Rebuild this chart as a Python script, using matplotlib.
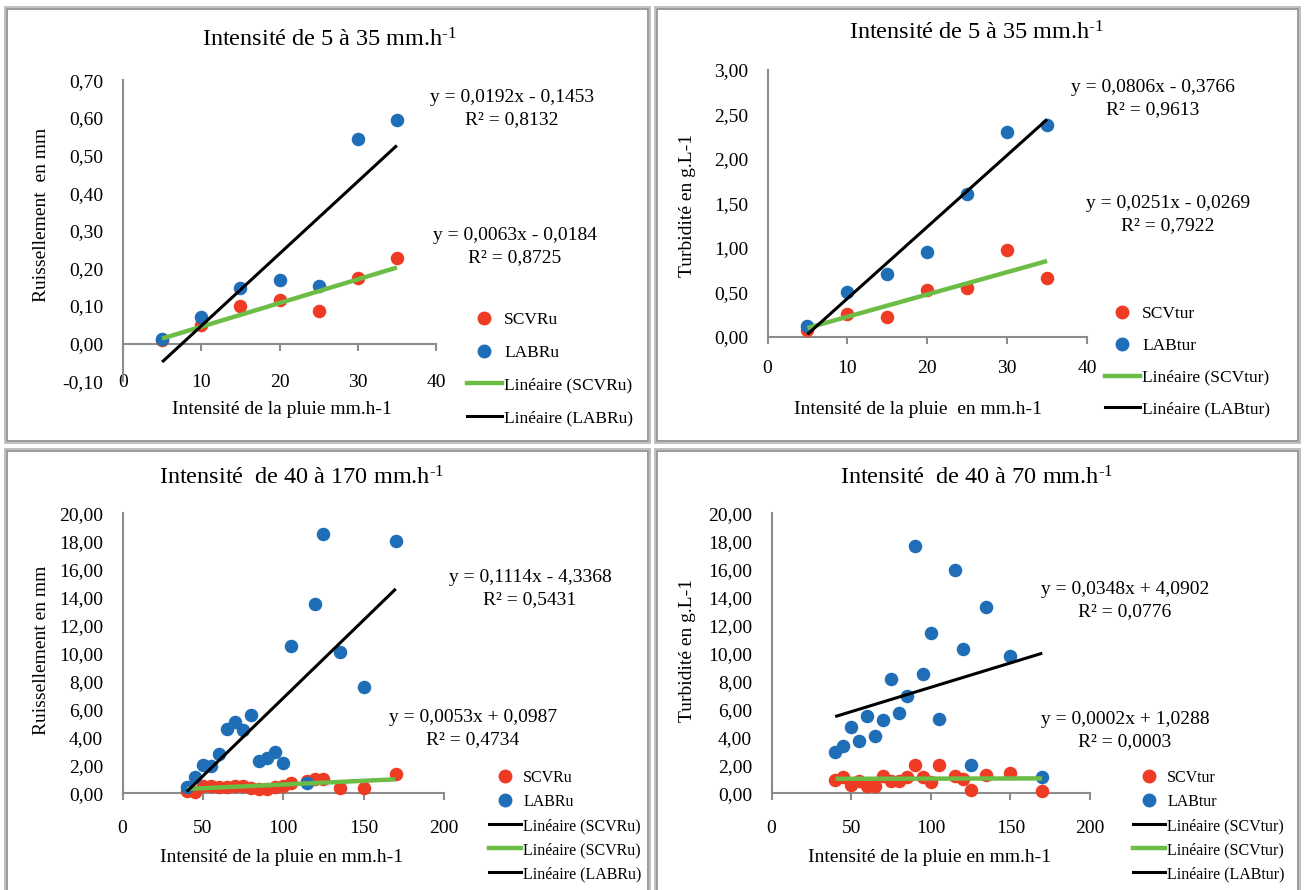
import numpy as np
import matplotlib
matplotlib.use("Agg")
import matplotlib.pyplot as plt
from matplotlib.lines import Line2D
from matplotlib.patches import Rectangle
from matplotlib.ticker import FuncFormatter

plt.rcParams['font.family'] = ['Liberation Serif', 'DejaVu Serif']
plt.rcParams['mathtext.fontset'] = 'custom'
plt.rcParams['mathtext.rm'] = 'Liberation Serif'
plt.rcParams['mathtext.it'] = 'Liberation Serif:italic'

# ---- données ----
x_faible = [5, 10, 15, 20, 25, 30, 35]  # intensité 5 à 35 mm/h
scv_ru_faible = [0.01, 0.049, 0.10, 0.115, 0.086, 0.173, 0.228]
lab_ru_faible = [0.012, 0.07, 0.148, 0.17, 0.152, 0.543, 0.595]
scv_tur_faible = [0.07, 0.26, 0.225, 0.525, 0.55, 0.97, 0.657]
lab_tur_faible = [0.124, 0.506, 0.70, 0.95, 1.605, 2.30, 2.38]

x_fort = [40, 45, 50, 55, 60, 65, 70, 75, 80, 85, 90, 95, 100, 105, 115, 120, 125, 135, 150, 170]
scv_ru_fort = [0.2, 0.1, 0.5, 0.55, 0.45, 0.45, 0.5, 0.55, 0.4, 0.3, 0.3, 0.45, 0.5, 0.75,
               0.9, 1.0, 1.05, 0.4, 0.4, 1.4]
lab_ru_fort = [0.43, 1.15, 2.04, 1.92, 2.8, 4.6, 5.08, 4.55, 5.56, 2.32, 2.52, 2.95, 2.2, 10.55,
               0.72, 13.55, 18.5, 10.1, 7.6, 18.0]
scv_tur_fort = [0.95, 1.19, 0.6, 0.9, 0.5, 0.5, 1.24, 0.9, 0.9, 1.14, 2.02, 1.14, 0.79, 2.02,
                1.24, 1.05, 0.26, 1.31, 1.43, 0.14]
lab_tur_fort = [2.93, 3.38, 4.71, 3.76, 5.52, 4.09, 5.24, 8.14, 5.76, 6.95, 17.66, 8.5, 11.43, 5.31,
                15.95, 10.29, 2.02, 13.33, 9.81, 1.19]

# courbes de tendance (pente, ordonnée) affichées sur le graphique
tend_ru_faible = [(0.0063, -0.0184), (0.0192, -0.1453)]
tend_tur_faible = [(0.0251, -0.0269), (0.0806, -0.3766)]
tend_ru_fort = [(0.0053, 0.0987), (0.1114, -4.3368)]
tend_tur_fort = [(0.0002, 1.0288), (0.0348, 4.0902)]

eq_ru_faible = [("y = 0,0192x - 0,1453", "R² = 0,8132"), ("y = 0,0063x - 0,0184", "R² = 0,8725")]
eq_tur_faible = [("y = 0,0806x - 0,3766", "R² = 0,9613"), ("y = 0,0251x - 0,0269", "R² = 0,7922")]
eq_ru_fort = [("y = 0,1114x - 4,3368", "R² = 0,5431"), ("y = 0,0053x + 0,0987", "R² = 0,4734")]
eq_tur_fort = [("y = 0,0348x + 4,0902", "R² = 0,0776"), ("y = 0,0002x + 1,0288", "R² = 0,0003")]

ROUGE = '#EE3B24'
BLEU = '#1F6EB8'
VERT = '#6CBD45'
GRIS = '#8C8C8C'

W, H = 1304, 890
fig = plt.figure(figsize=(W / 100, H / 100), dpi=100)


def fx(x):
    return x / W


def fy(y):
    return 1 - y / H


def cadre(x0, y0, x1, y1):
    # double bordure grise des graphiques Excel
    for d, c in [(0, '#B4B4B4'), (2, '#8A8A8A')]:
        fig.add_artist(Rectangle((fx(x0 + d), fy(y1 - d)), (x1 - x0 - 2 * d) / W, (y1 - y0 - 2 * d) / H,
                                 transform=fig.transFigure, fill=False, edgecolor=c, linewidth=1.2))


def virgule(v, pos):
    s = "{:.2f}".format(v).replace('.', ',')
    return "0,00" if s == "-0,00" else s


def panneau(left, right, top, bottom, xlim, ylim, xticks, yticks, pad):
    ax = fig.add_axes([fx(left), fy(bottom), (right - left) / W, (bottom - top) / H])
    ax.set_xlim(xlim)
    ax.set_ylim(ylim)
    ax.set_xticks(xticks)
    ax.set_yticks(yticks)
    ax.yaxis.set_major_formatter(FuncFormatter(virgule))
    for s in ['top', 'right']:
        ax.spines[s].set_visible(False)
    for s in ['left', 'bottom']:
        ax.spines[s].set_color(GRIS)
        ax.spines[s].set_linewidth(1.5)
    ax.spines['bottom'].set_position(('data', 0))
    ax.tick_params(axis='x', direction='out', length=5, width=1.5, color=GRIS, labelsize=14, pad=pad)
    ax.tick_params(axis='y', length=0, labelsize=14, pad=14)
    ax.patch.set_alpha(0)
    return ax


def tracer(ax, x, scv, lab, tend, lignes):
    ax.scatter(x, scv, s=95, color=ROUGE, zorder=3, clip_on=False, linewidths=0)
    ax.scatter(x, lab, s=95, color=BLEU, zorder=3, clip_on=False, linewidths=0)
    xt = np.array([min(x), max(x)])
    for (a, b), c, lw in zip(tend, lignes[0], lignes[1]):
        ax.plot(xt, a * xt + b, color=c, lw=lw, zorder=4, clip_on=False, solid_capstyle='butt')


def legende(ax, noms, couleurs, x, y, sp, taille):
    poignees = [Line2D([], [], ls='none', marker='o', ms=9, color=ROUGE),
                Line2D([], [], ls='none', marker='o', ms=9, color=BLEU)]
    for c in couleurs:
        poignees.append(Line2D([], [], color=c, lw=3.2 if c == VERT else 2.2))
    ax.legend(poignees, noms, loc='upper left', bbox_to_anchor=(fx(x), fy(y)), bbox_transform=fig.transFigure,
              frameon=False, fontsize=taille, handlelength=2.0, handletextpad=0.15, labelspacing=sp,
              borderpad=0, borderaxespad=0)


def equations(eqs, pos):
    for (l1, l2), (x, y1, y2) in zip(eqs, pos):
        fig.text(fx(x), fy(y1), l1, ha='center', va='center', fontsize=14)
        fig.text(fx(x), fy(y2), l2, ha='center', va='center', fontsize=14)


def titre(x, y, s):
    fig.text(fx(x), fy(y), s + r" mm.h$^{\text{-1}}$", ha='center', va='center', fontsize=17.5)


# cadres
cadre(5, 7, 650, 443)
cadre(655, 7, 1300, 443)
cadre(5, 449, 650, 898)
cadre(655, 449, 1300, 898)

# ---- 1 : ruissellement 5 à 35 ----
ax1 = panneau(123, 436, 80.3, 381.1, (0, 40), (-0.1, 0.7), np.arange(0, 41, 10),
              np.arange(-0.1, 0.71, 0.1), 17)
tracer(ax1, x_faible, scv_ru_faible, lab_ru_faible, tend_ru_faible, ([VERT, 'black'], [3.2, 2.2]))
titre(330, 40, "Intensité de 5 à 35")
fig.text(fx(282), fy(410), "Intensité de la pluie mm.h-1", ha='center', va='center', fontsize=14)
fig.text(fx(42), fy(215), "Ruissellement  en mm", ha='center', va='center', rotation=90, fontsize=14)
legende(ax1, ["SCVRu", "LABRu", "Linéaire (SCVRu)", "Linéaire (LABRu)"], [VERT, 'black'], 467, 312, 0.95, 12.5)
equations(eq_ru_faible, [(512, 98, 120), (515, 236, 258)])

# ---- 2 : turbidité 5 à 35 ----
ax2 = panneau(767.5, 1087, 70, 336.7, (0, 40), (0, 3), np.arange(0, 41, 10),
              np.arange(0, 3.01, 0.5), 12)
tracer(ax2, x_faible, scv_tur_faible, lab_tur_faible, tend_tur_faible, ([VERT, 'black'], [3.2, 2.2]))
titre(977, 33, "Intensité de 5 à 35")
fig.text(fx(918), fy(410), "Intensité de la pluie  en mm.h-1", ha='center', va='center', fontsize=14)
fig.text(fx(688), fy(205), "Turbidité en g.L-1", ha='center', va='center', rotation=90, fontsize=14)
legende(ax2, ["SCVtur", "LABtur", "Linéaire (SCVtur)", "Linéaire (LABtur)"], [VERT, 'black'], 1105, 306, 0.9, 12.5)
equations(eq_tur_faible, [(1153, 88, 110), (1168, 204, 226)])

# ---- 3 : ruissellement 40 à 170 ----
ax3 = panneau(122.5, 444, 513.3, 793.3, (0, 200), (0, 20), np.arange(0, 201, 50),
              np.arange(0, 20.01, 2), 14)
tracer(ax3, x_fort, scv_ru_fort, lab_ru_fort, [tend_ru_fort[0]] + tend_ru_fort,
       (['black', VERT, 'black'], [2.2, 3.2, 2.2]))
titre(302, 478, "Intensité  de 40 à 170")
fig.text(fx(282), fy(858), "Intensité de la pluie en mm.h-1", ha='center', va='center', fontsize=14)
fig.text(fx(42), fy(650), "Ruissellement en mm", ha='center', va='center', rotation=90, fontsize=14)
legende(ax3, ["SCVRu", "LABRu", "Linéaire (SCVRu)", "Linéaire (SCVRu)", "Linéaire (LABRu)"],
        ['black', VERT, 'black'], 489, 770, 0.5, 11.5)
equations(eq_ru_fort, [(530, 578, 600), (473, 718, 740)])

# ---- 4 : turbidité 40 à 170 ----
ax4 = panneau(771.5, 1090, 513.3, 793.3, (0, 200), (0, 20), np.arange(0, 201, 50),
              np.arange(0, 20.01, 2), 14)
tracer(ax4, x_fort, scv_tur_fort, lab_tur_fort, [tend_tur_fort[0]] + tend_tur_fort,
       (['black', VERT, 'black'], [2.2, 3.2, 2.2]))
titre(977, 478, "Intensité  de 40 à 70")
fig.text(fx(930), fy(858), "Intensité de la pluie en mm.h-1", ha='center', va='center', fontsize=14)
fig.text(fx(688), fy(650), "Turbidité en g.L-1", ha='center', va='center', rotation=90, fontsize=14)
legende(ax4, ["SCVtur", "LABtur", "Linéaire (SCVtur)", "Linéaire (SCVtur)", "Linéaire (LABtur)"],
        ['black', VERT, 'black'], 1133, 770, 0.5, 11.5)
equations(eq_tur_fort, [(1125, 590, 612), (1125, 720, 742)])

fig.savefig("out.png", dpi=100)
